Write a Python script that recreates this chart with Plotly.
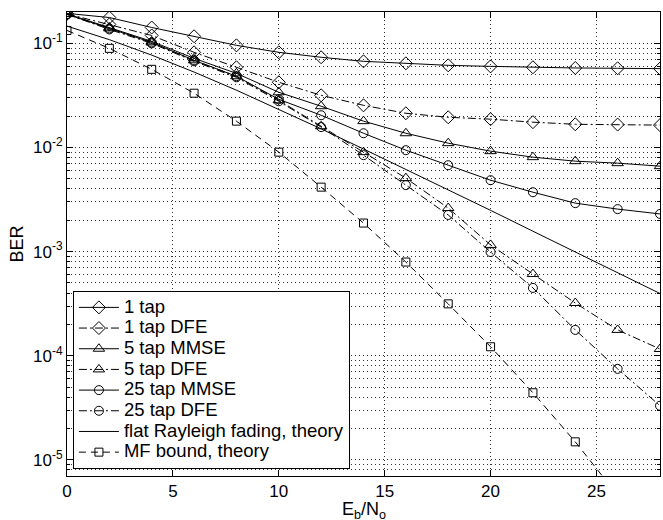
import math
import plotly.graph_objects as go

# ---------------- data ----------------
ebno_db = [0, 2, 4, 6, 8, 10, 12, 14, 16, 18, 20, 22, 24, 26, 28]

ber_1tap = [0.194, 0.177, 0.142, 0.117, 0.0957, 0.082, 0.0735, 0.0672, 0.0643,
            0.0615, 0.0601, 0.0589, 0.0580, 0.0576, 0.0572]
ber_1tap_dfe = [0.192, 0.152, 0.119, 0.082, 0.0589, 0.0423, 0.0317, 0.0254, 0.0213,
                0.0195, 0.0187, 0.0175, 0.0167, 0.0166, 0.0164]
ber_5tap_mmse = [0.192, 0.142, 0.1045, 0.0718, 0.0515, 0.0339, 0.0249, 0.0179, 0.0137,
                 0.0110, 0.00922, 0.00807, 0.00739, 0.00707, 0.00662]
ber_5tap_dfe = [0.191, 0.139, 0.102, 0.0687, 0.0483, 0.0284, 0.0160, 0.00902, 0.00508,
                0.00262, 0.00116, 6.09e-4, 3.21e-4, 1.77e-4, 1.16e-4]
ber_25tap_mmse = [0.190, 0.139, 0.102, 0.0687, 0.0483, 0.0290, 0.0204, 0.0137, 0.00942,
                  0.00676, 0.00485, 0.00372, 0.00292, 0.00256, 0.00230]
ber_25tap_dfe = [0.190, 0.136, 0.100, 0.0672, 0.0472, 0.0278, 0.0157, 0.00844, 0.00435,
                 0.00225, 9.91e-4, 4.48e-4, 1.77e-4, 7.48e-5, 3.31e-5]
ber_rayleigh = [0.1464, 0.1085, 0.0771, 0.0530, 0.0355, 0.0233, 0.0151, 0.00967, 0.00617,
                0.00392, 0.00249, 0.00157, 0.000994, 0.000628, 0.000396]
ber_mf_bound = [0.133, 0.0895, 0.0563, 0.0332, 0.0179, 0.00902, 0.00416, 0.00188, 7.94e-4,
                3.15e-4, 1.22e-4, 4.41e-5, 1.49e-5, 4.7e-6, 1.4e-6]

x_ticks = [0, 5, 10, 15, 20, 25]
y_ticks = [1e-5, 1e-4, 1e-3, 1e-2, 1e-1]
y_tick_labels = ["10<sup>-5</sup>", "10<sup>-4</sup>", "10<sup>-3</sup>",
                 "10<sup>-2</sup>", "10<sup>-1</sup>"]

# ---------------- styling ----------------
FONT = "Liberation Sans, Arial, Helvetica, sans-serif"
DASHDOT = "8px,3px,2px,3px"
DASHED = "7px,5px"

series = [
    ("1 tap", ber_1tap, "solid", "diamond-open", 10),
    ("1 tap DFE", ber_1tap_dfe, DASHDOT, "diamond-open", 10),
    ("5 tap MMSE", ber_5tap_mmse, "solid", "triangle-up-open", 10),
    ("5 tap DFE", ber_5tap_dfe, DASHDOT, "triangle-up-open", 10),
    ("25 tap MMSE", ber_25tap_mmse, "solid", "circle-open", 9),
    ("25 tap DFE", ber_25tap_dfe, DASHDOT, "circle-open", 9),
]

fig = go.Figure()
for name, vals, dash, sym, size in series:
    fig.add_trace(go.Scatter(
        x=ebno_db, y=vals, name=name, mode="lines+markers",
        line=dict(color="black", width=1, dash=dash),
        marker=dict(symbol=sym, size=size, color="black", line=dict(width=1, color="black")),
    ))

fig.add_trace(go.Scatter(
    x=ebno_db, y=ber_rayleigh, name="flat Rayleigh fading, theory", mode="lines",
    line=dict(color="black", width=1),
))
fig.add_trace(go.Scatter(
    x=ebno_db, y=ber_mf_bound, name="MF bound, theory", mode="lines+markers",
    line=dict(color="black", width=1, dash=DASHED),
    marker=dict(symbol="square-open", size=8, color="black", line=dict(width=1, color="black")),
))

minor_y = [m * 10.0 ** e for e in range(-6, 0) for m in range(2, 10)
           if 7e-6 <= m * 10.0 ** e <= 0.2]

GRID = "#333333"
GRIDDASH = "1px,3px"
fig.update_xaxes(
    range=[0, 28], tickvals=x_ticks, ticktext=[str(v) for v in x_ticks],
    showline=True, linecolor="black", linewidth=1, mirror="allticks",
    ticks="inside", ticklen=6, tickcolor="black",
    showgrid=True, gridcolor=GRID, gridwidth=1, griddash=GRIDDASH,
    zeroline=False,
    tickfont=dict(family=FONT, size=17, color="black"),
)
fig.update_yaxes(
    type="log", range=[math.log10(7e-6), math.log10(0.2)],
    tickvals=y_ticks, ticktext=y_tick_labels,
    showline=True, linecolor="black", linewidth=1, mirror="allticks",
    ticks="inside", ticklen=6, tickcolor="black",
    showgrid=True, gridcolor=GRID, gridwidth=1, griddash=GRIDDASH,
    minor=dict(tickvals=minor_y, ticks="inside", ticklen=3, tickcolor="black",
               showgrid=True, gridcolor=GRID, gridwidth=1, griddash=GRIDDASH),
    zeroline=False,
    tickfont=dict(family=FONT, size=17, color="black"),
    title=dict(text="BER", font=dict(family=FONT, size=18, color="black"), standoff=4),
)

# x-axis title placed just below the tick labels (partly cut by the bottom edge, as in the reference)
fig.add_annotation(
    text="E<sub>b</sub>/N<sub>o</sub>", xref="paper", yref="paper",
    x=0.5, y=-0.046, xanchor="center", yanchor="top", showarrow=False,
    font=dict(family=FONT, size=18, color="black"),
)

fig.update_layout(
    width=663, height=520,
    margin=dict(l=67, r=3, t=12, b=44, autoexpand=False),
    paper_bgcolor="white", plot_bgcolor="white",
    font=dict(family=FONT, color="black"),
    showlegend=True,
    legend=dict(
        x=0.010, y=0.015, xanchor="left", yanchor="bottom",
        bgcolor="white", bordercolor="black", borderwidth=1,
        font=dict(family=FONT, size=13.6, color="black"),
        itemwidth=40, tracegroupgap=0,
    ),
)

fig.write_html("out.html", config={"displayModeBar": False, "staticPlot": True})

# page tweaks: no default page margin; legend text drawn a bit larger than its row pitch
with open("out.html", "r", encoding="utf-8") as fh:
    html = fh.read()
css = ("<style>html,body{margin:0;padding:0;overflow:hidden;}"
       ".legendtext{font-size:18.5px !important;}</style>")
html = html.replace("<head>", "<head>" + css, 1)
with open("out.html", "w", encoding="utf-8") as fh:
    fh.write(html)
